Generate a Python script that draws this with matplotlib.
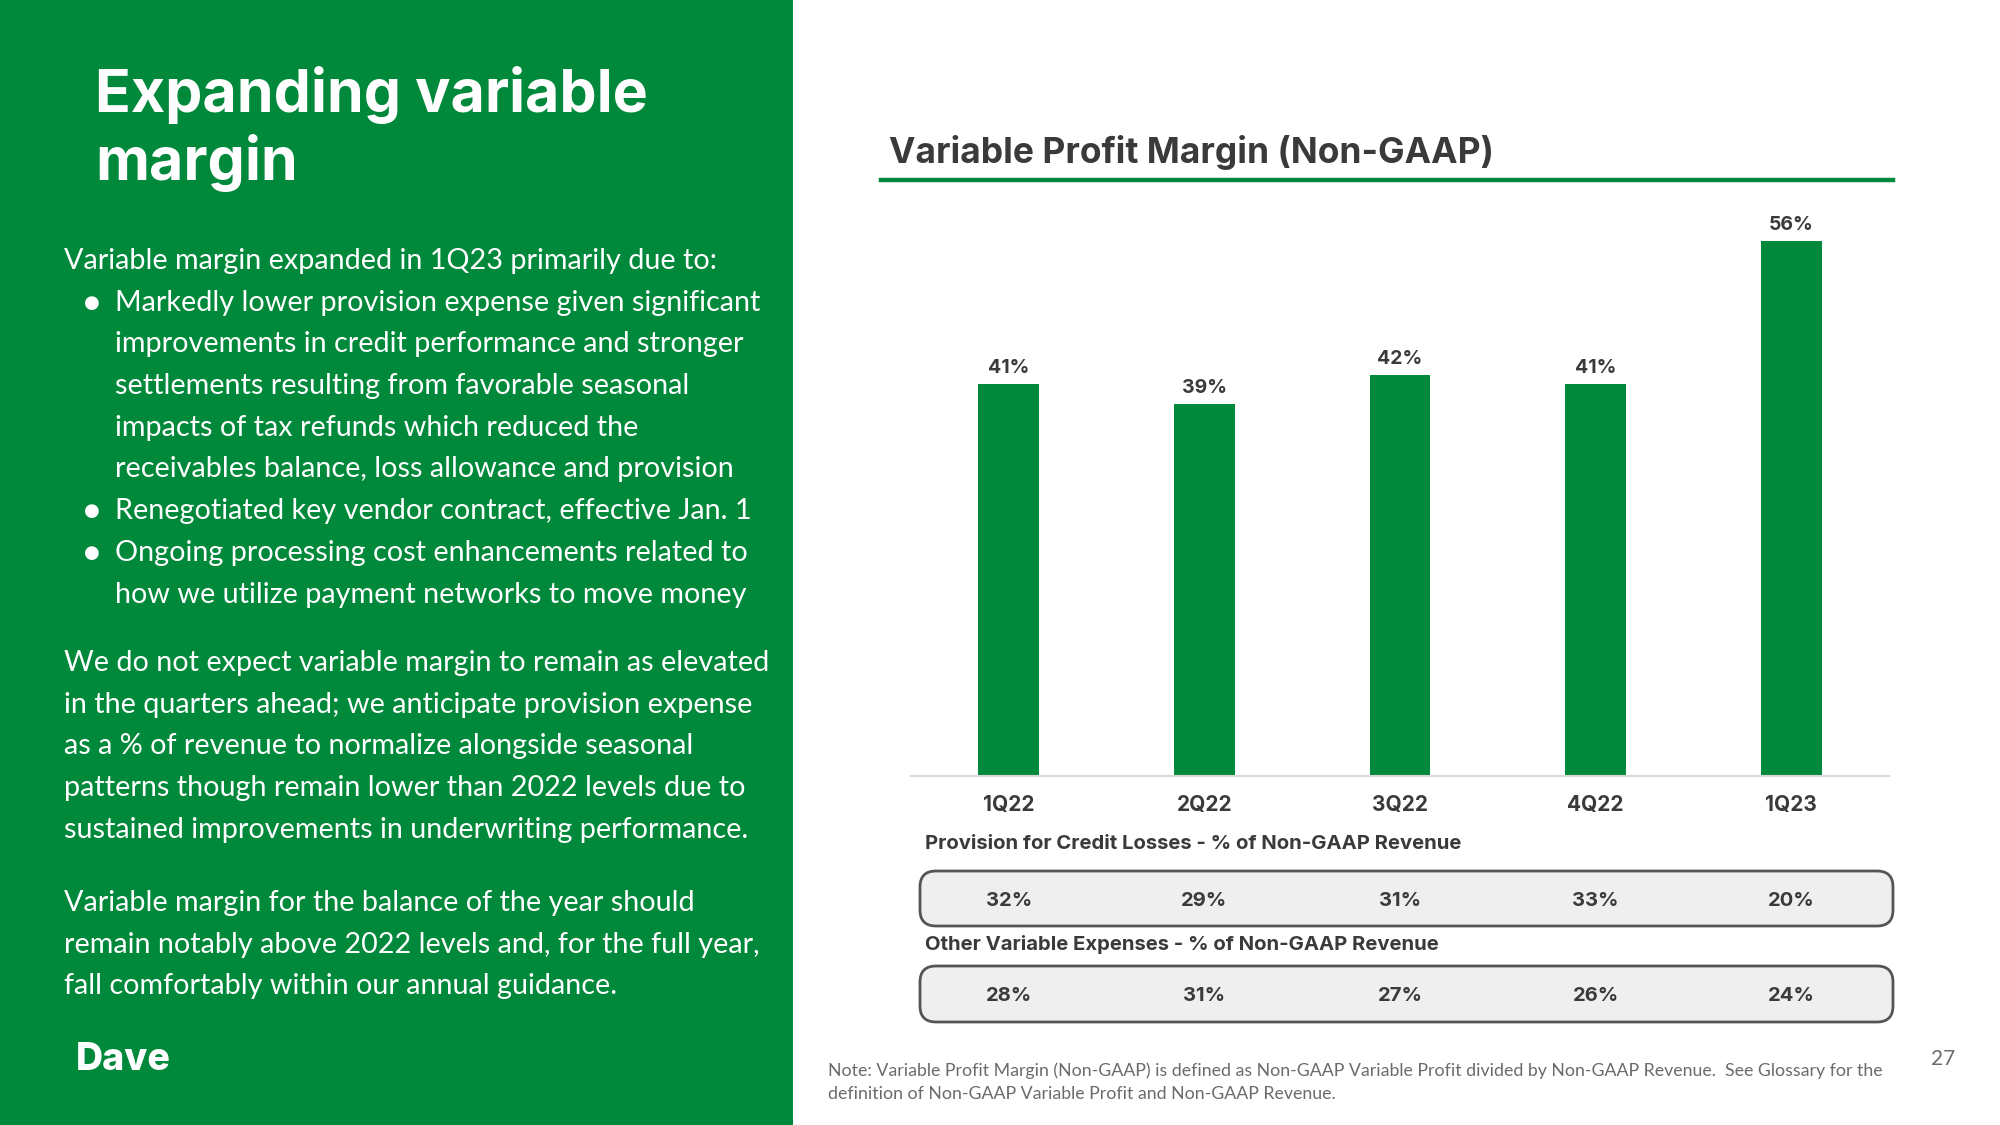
import matplotlib.pyplot as plt
from matplotlib.patches import Rectangle, FancyBboxPatch
import matplotlib.transforms as mtransforms

# data
quarters = ['1Q22', '2Q22', '3Q22', '4Q22', '1Q23']
variable_margin = [41, 39, 42, 41, 56]
provision_pct = [32, 29, 31, 33, 20]
other_var_pct = [28, 31, 27, 26, 24]

headline = ['Expanding variable', 'margin']
intro = 'Variable margin expanded in 1Q23 primarily due to:'
bullets = [
    ['Markedly lower provision expense given significant',
     'improvements in credit performance and stronger',
     'settlements resulting from favorable seasonal',
     'impacts of tax refunds which reduced the',
     'receivables balance, loss allowance and provision'],
    ['Renegotiated key vendor contract, effective Jan. 1'],
    ['Ongoing processing cost enhancements related to',
     'how we utilize payment networks to move money'],
]
para2 = ['We do not expect variable margin to remain as elevated',
         'in the quarters ahead; we anticipate provision expense',
         'as a % of revenue to normalize alongside seasonal',
         'patterns though remain lower than 2022 levels due to',
         'sustained improvements in underwriting performance.']
para3 = ['Variable margin for the balance of the year should',
         'remain notably above 2022 levels and, for the full year,',
         'fall comfortably within our annual guidance.']
footnote = ['Note: Variable Profit Margin (Non-GAAP) is defined as Non-GAAP Variable Profit divided by Non-GAAP Revenue.  See Glossary for the',
            'definition of Non-GAAP Variable Profit and Non-GAAP Revenue.']

GREEN = '#00893A'
DARK = '#3a3a3a'
W, H = 2000, 1125
head_font = 'Inter'
body_font = 'Lato'
body_size = 20.7

fig = plt.figure(figsize=(20, 11.25), dpi=100)
fig.patch.set_facecolor('white')


def fx(px):
    return px / W


def fy(py):
    return 1 - py / H


# left green panel
fig.patches.append(Rectangle((0, 0), fx(793), 1, transform=fig.transFigure,
                             facecolor=GREEN, edgecolor='none', zorder=0))

for i, line in enumerate(headline):
    fig.text(fx(95), fy(112 + 68 * i), line, color='white', fontsize=42.5,
             fontweight='bold', family=head_font, va='baseline')

line_h = 41.7
y = 261
fig.text(fx(64), fy(y), intro, color='white', fontsize=body_size, family=body_font, va='center')
for b in bullets:
    for j, line in enumerate(b):
        y += line_h
        if j == 0:
            fig.text(fx(92), fy(y), '\u25CF', color='white', fontsize=13,
                     family='DejaVu Sans', va='center', ha='center')
        fig.text(fx(115), fy(y), line, color='white', fontsize=body_size,
                 family=body_font, va='center')

y = 663
for line in para2:
    fig.text(fx(64), fy(y), line, color='white', fontsize=body_size, family=body_font, va='center')
    y += line_h
y = 903
for line in para3:
    fig.text(fx(64), fy(y), line, color='white', fontsize=body_size, family=body_font, va='center')
    y += line_h

# logo
fig.text(fx(76), fy(1060), 'Dave', color='white', fontsize=27, fontweight='heavy',
         family=head_font, va='center')

# chart header
fig.text(fx(889), fy(152), 'Variable Profit Margin (Non-GAAP)', color=DARK, fontsize=25.5,
         fontweight='bold', family=head_font, va='center')
fig.add_artist(plt.Line2D([fx(881), fx(1893)], [fy(180), fy(180)], color=GREEN, lw=3.2,
                          transform=fig.transFigure))

# bar chart
ax = fig.add_axes([fx(911), fy(776), fx(1889 - 911), 573 / H])
x = range(len(quarters))
ax.bar(x, variable_margin, width=0.31, color=GREEN, zorder=2)
ax.set_xlim(-0.5, 4.5)
ax.set_ylim(0, 60)
ax.set_yticks([])
for s in ['top', 'right', 'left']:
    ax.spines[s].set_visible(False)
ax.spines['bottom'].set_color('#d9d9d9')
ax.spines['bottom'].set_linewidth(1.5)
ax.set_xticks(list(x))
ax.set_xticklabels(quarters, fontsize=15, fontweight='bold', color=DARK, family=head_font)
ax.tick_params(axis='x', length=0, pad=14)
ax.patch.set_alpha(0)
for xi, v in zip(x, variable_margin):
    ax.annotate(f'{v}%', (xi, v), xytext=(0, 16), textcoords='offset pixels',
                ha='center', va='center', fontsize=14, fontweight='bold',
                color=DARK, family=head_font)

# rows below the chart, sharing the bar axis x scale
row_tf = mtransforms.blended_transform_factory(ax.transData, fig.transFigure)
rows = [
    ('Provision for Credit Losses - % of Non-GAAP Revenue', provision_pct, 844, 871, 926),
    ('Other Variable Expenses - % of Non-GAAP Revenue', other_var_pct, 945, 966, 1022),
]
for title, vals, ty, top, bot in rows:
    fig.text(fx(925), fy(ty), title, color=DARK, fontsize=14.6, fontweight='bold',
             family=head_font, va='center')
    box = FancyBboxPatch((fx(920), fy(bot)), fx(1893 - 920), (bot - top) / H,
                         boxstyle='round,pad=0,rounding_size=0.008',
                         transform=fig.transFigure, facecolor='#efefef',
                         edgecolor='#555555', lw=2, mutation_aspect=W / H)
    fig.patches.append(box)
    for xi, v in zip(x, vals):
        fig.text(xi, fy((top + bot) / 2 + 2), f'{v}%', transform=row_tf, ha='center',
                 va='center', fontsize=14.5, fontweight='bold', color=DARK, family=head_font)

# footnote and page number
for i, line in enumerate(footnote):
    fig.text(fx(828), fy(1071 + 23 * i), line, color='#6b6b6b', fontsize=12.75,
             family=body_font, va='center')
fig.text(fx(1943), fy(1059), '27', color='#6b6b6b', fontsize=15, family=body_font,
         va='center', ha='center')

fig.savefig('out.png', dpi=100)
